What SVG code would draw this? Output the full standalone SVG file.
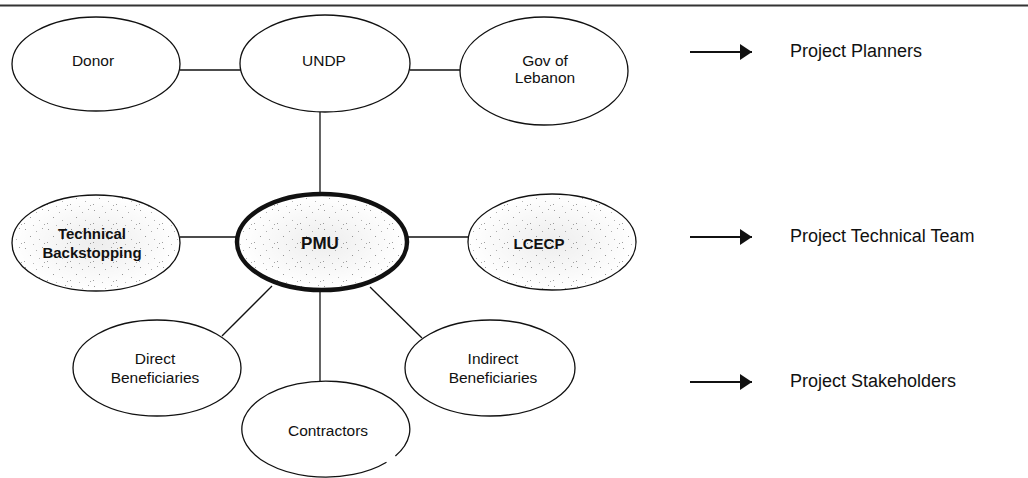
<svg xmlns="http://www.w3.org/2000/svg" width="1028" height="478" viewBox="0 0 1028 478">
<style>
  .node { fill: #ffffff; stroke: #111111; stroke-width: 1.3; }
  .shaded { fill: url(#stipple); }
  .glow { fill: url(#centre); stroke: none; }
  .pmu { stroke-width: 4.5; }
  .conn line { stroke: #111111; stroke-width: 1.3; }
  .lbl { font-family: "Liberation Sans", Arial, sans-serif; font-size: 15.5px; fill: #111111; text-anchor: middle; }
  .bold { font-weight: bold; font-size: 15px; }
  .big { font-size: 17px; }
  .leg { font-family: "Liberation Sans", Arial, sans-serif; font-size: 18px; fill: #111111; }
  .legline { stroke: #111111; stroke-width: 2; marker-end: url(#arrow); }
</style>
<defs>
  <pattern id="stipple" patternUnits="userSpaceOnUse" width="23" height="19">
    <rect width="23" height="19" fill="#ffffff"/>
    <rect x="2" y="1" width="1" height="1" fill="#9a9a9a"/>
    <rect x="13" y="3" width="1" height="1" fill="#b0b0b0"/>
    <rect x="19" y="0" width="1" height="1" fill="#a5a5a5"/>
    <rect x="7" y="8" width="1" height="1" fill="#999999"/>
    <rect x="16" y="11" width="1" height="1" fill="#b5b5b5"/>
    <rect x="1" y="14" width="1" height="1" fill="#a0a0a0"/>
    <rect x="10" y="16" width="1" height="1" fill="#bbbbbb"/>
    <rect x="21" y="15" width="1" height="1" fill="#a8a8a8"/>
  </pattern>
  <radialGradient id="centre" cx="0.5" cy="0.5" r="0.5">
    <stop offset="0" stop-color="#000000" stop-opacity="0.07"/>
    <stop offset="1" stop-color="#000000" stop-opacity="0"/>
  </radialGradient>
  <marker id="arrow" viewBox="0 0 12 16" refX="12" refY="8" markerWidth="12" markerHeight="16" markerUnits="userSpaceOnUse" orient="auto">
    <path d="M0,0 L12,8 L0,16 Z" fill="#111111"/>
  </marker>
</defs>
<rect x="0" y="0" width="1028" height="478" fill="#ffffff"/>
<line x1="0" y1="5.5" x2="1028" y2="5.5" stroke="#333333" stroke-width="2"/>

<g id="connectors" class="conn">
  <line x1="180" y1="70" x2="241" y2="70"/>
  <line x1="410" y1="70" x2="460" y2="70"/>
  <line x1="320" y1="112" x2="320" y2="194"/>
  <line x1="180" y1="237" x2="238" y2="237"/>
  <line x1="407" y1="237" x2="468" y2="237"/>
  <line x1="272" y1="286" x2="222" y2="336"/>
  <line x1="320" y1="290" x2="320" y2="381"/>
  <line x1="370" y1="287" x2="422" y2="338"/>
</g>

<g id="node-donor">
  <ellipse class="node" cx="96" cy="64" rx="84" ry="47"/>
  <text class="lbl" x="93" y="65.5">Donor</text>
</g>
<g id="node-undp">
  <ellipse class="node" cx="325" cy="63.5" rx="85" ry="48.5"/>
  <text class="lbl" x="324" y="65.5">UNDP</text>
</g>
<g id="node-gov">
  <ellipse class="node" cx="544" cy="71" rx="84" ry="54"/>
  <text class="lbl" x="545" y="65.5">Gov of</text>
  <text class="lbl" x="545" y="82.5">Lebanon</text>
</g>
<g id="node-technical">
  <ellipse class="node shaded" cx="96" cy="243" rx="84" ry="48"/>
  <ellipse class="glow" cx="96" cy="243" rx="84" ry="48"/>
  <text class="lbl bold" x="92" y="238.5">Technical</text>
  <text class="lbl bold" x="92" y="257.5">Backstopping</text>
</g>
<g id="node-pmu">
  <ellipse class="node shaded pmu" cx="322" cy="242" rx="85" ry="48"/>
  <ellipse class="glow" cx="322" cy="242" rx="83" ry="46"/>
  <text class="lbl bold big" x="320" y="249">PMU</text>
</g>
<g id="node-lcecp">
  <ellipse class="node shaded" cx="552" cy="242" rx="84" ry="48"/>
  <ellipse class="glow" cx="552" cy="242" rx="84" ry="48"/>
  <text class="lbl bold" x="539" y="248.5">LCECP</text>
</g>
<g id="node-direct">
  <ellipse class="node" cx="157" cy="368" rx="84" ry="48"/>
  <text class="lbl" x="155" y="363.5">Direct</text>
  <text class="lbl" x="155" y="382.5">Beneficiaries</text>
</g>
<g id="node-contractors">
  <path class="node" d="M 386.5 462.3 A 84 48 0 1 1 395.4 456"/>
  <text class="lbl" x="328" y="435.5">Contractors</text>
</g>
<g id="node-indirect">
  <ellipse class="node" cx="490" cy="368" rx="85" ry="48"/>
  <text class="lbl" x="493" y="363.5">Indirect</text>
  <text class="lbl" x="493" y="382.5">Beneficiaries</text>
</g>

<g id="legend">
  <line class="legline" x1="690" y1="52" x2="752" y2="52"/>
  <text class="leg" x="790" y="57">Project Planners</text>
  <line class="legline" x1="690" y1="237" x2="752" y2="237"/>
  <text class="leg" x="790" y="242">Project Technical Team</text>
  <line class="legline" x1="690" y1="382" x2="752" y2="382"/>
  <text class="leg" x="790" y="387">Project Stakeholders</text>
</g>
</svg>
